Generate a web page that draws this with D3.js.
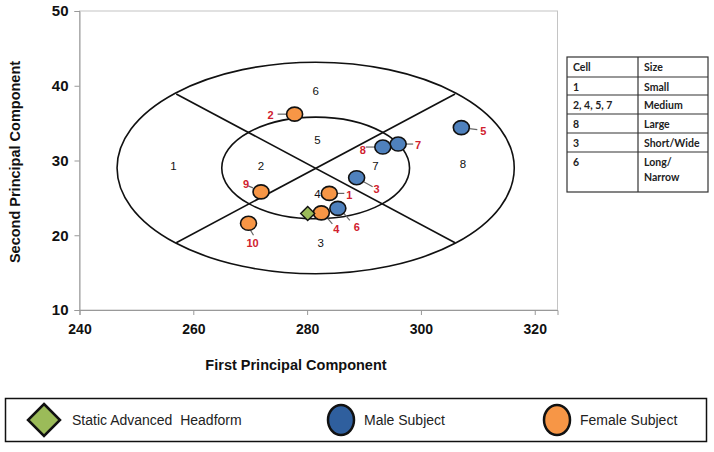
<!DOCTYPE html>
<html>
<head>
<meta charset="utf-8">
<title>PCA head size cells</title>
<script src="https://d3js.org/d3.v7.min.js"></script>
<style>
  body { margin: 0; background: #fff; }
  svg { display: block; font-family: "Liberation Sans", Arial, sans-serif; }
</style>
</head>
<body>
<div id="chart"></div>
<script>
// axis ticks
var xTicks = [240, 260, 280, 300, 320];
var yTicks = [10, 20, 30, 40, 50];

// subjects (id, PC1, PC2)
var femaleIds = [1, 2, 4, 9, 10];
var femaleX = [283.9, 277.8, 282.5, 271.9, 269.7];
var femaleY = [25.6, 36.2, 23.0, 25.8, 21.6];

var maleIds = [3, 5, 6, 7, 8];
var maleX = [288.7, 307.1, 285.4, 296.0, 293.3];
var maleY = [27.7, 34.4, 23.6, 32.2, 31.8];

var headformX = [280.1];
var headformY = [22.9];

// cell boundaries (data units)
var cellCenter = [281.5, 29.0];
var outerRadii = [34.9, 14.15];
var innerRadii = [16.5, 6.8];
var crossLines = [[[257.0, 38.9], [306.0, 19.0]], [[257.0, 19.0], [306.0, 38.9]]];

// cell numbers
var cellNames = ["1", "2", "3", "4", "5", "6", "7", "8"];
var cellX = [256.5, 271.9, 282.4, 281.8, 281.8, 281.5, 292.0, 307.4];
var cellY = [29.3, 29.3, 18.9, 25.5, 32.8, 39.3, 29.3, 29.5];

// table
var tableCells = ["Cell", "1", "2, 4, 5, 7", "8", "3", "6"];
var tableSizes = ["Size", "Small", "Medium", "Large", "Short/Wide", "Long/\nNarrow"];

// legend
var legendNames = ["Static Advanced  Headform", "Male Subject", "Female Subject"];

// label placement relative to marker (px): leader start, leader end, text pos
var labelLayout = {
  1: [7, 0, 15, 0, 20, 2],
  2: [-7, 0, -17, 0, -24, 1],
  4: [5, 4, 11, 11, 15, 16],
  9: [-8, -4, -13, -6, -15, -8],
  10: [2, 7, 5, 12, 4, 20],
  3: [7, 4, 16, 9, 20, 11],
  5: [8, 1, 16, 2, 22, 4],
  7: [7, 0, 15, 0, 20, 1],
  6: [6, 5, 12, 12, 19, 19],
  8: [-8, 0, -17, 0, -20, 3]
};

var W = 714, H = 452;
var svg = d3.select("#chart").append("svg").attr("width", W).attr("height", H);
svg.append("rect").attr("width", W).attr("height", H).attr("fill", "#fff");

var x = d3.scaleLinear().domain([240, 324]).range([79.5, 557.5]);
var y = d3.scaleLinear().domain([10, 50]).range([310, 11]);

// plot frame
svg.append("rect")
  .attr("x", x(240)).attr("y", y(50))
  .attr("width", x(324) - x(240)).attr("height", y(10) - y(50))
  .attr("fill", "none").attr("stroke", "#c4c4c4").attr("stroke-width", 1);

var yAxis = svg.append("g")
  .attr("transform", "translate(" + x(240) + ",0)")
  .call(d3.axisLeft(y).tickValues(yTicks).tickSize(5).tickPadding(6));
var xAxis = svg.append("g")
  .attr("transform", "translate(0," + y(10) + ")")
  .call(d3.axisBottom(x).tickValues(xTicks).tickSize(5).tickPadding(6));
[xAxis, yAxis].forEach(function (g) {
  g.select(".domain").attr("stroke", "#999");
  g.selectAll(".tick line").attr("stroke", "#999");
  g.selectAll("text").attr("font-size", 14).attr("font-weight", "bold")
    .attr("fill", "#111").attr("font-family", "Liberation Sans, Arial, sans-serif");
});
yAxis.selectAll("text").attr("font-size", 15);
xAxis.selectAll("text").attr("dy", "0.9em");

// axis titles
svg.append("text")
  .attr("transform", "translate(20," + 162 + ") rotate(-90)")
  .attr("text-anchor", "middle").attr("font-size", 14.5).attr("font-weight", "bold")
  .attr("fill", "#111").text("Second Principal Component");
svg.append("text")
  .attr("x", 296).attr("y", 370)
  .attr("text-anchor", "middle").attr("font-size", 14.5).attr("font-weight", "bold")
  .attr("fill", "#111").text("First Principal Component");

// cells
var cellG = svg.append("g").attr("fill", "none").attr("stroke", "#111").attr("stroke-width", 1.6);
[outerRadii, innerRadii].forEach(function (r) {
  cellG.append("ellipse")
    .attr("cx", x(cellCenter[0])).attr("cy", y(cellCenter[1]))
    .attr("rx", x(cellCenter[0] + r[0]) - x(cellCenter[0]))
    .attr("ry", y(cellCenter[1] - r[1]) - y(cellCenter[1]));
});
crossLines.forEach(function (l) {
  cellG.append("line")
    .attr("x1", x(l[0][0])).attr("y1", y(l[0][1]))
    .attr("x2", x(l[1][0])).attr("y2", y(l[1][1]));
});
cellNames.forEach(function (n, i) {
  svg.append("text").attr("x", x(cellX[i])).attr("y", y(cellY[i]))
    .attr("dy", "0.35em").attr("text-anchor", "middle")
    .attr("font-size", 11.5).attr("fill", "#111").text(n);
});

// leader lines + labels
function drawLabels(ids, xs, ys) {
  ids.forEach(function (id, i) {
    var L = labelLayout[id], px = x(xs[i]), py = y(ys[i]);
    svg.append("line")
      .attr("x1", px + L[0]).attr("y1", py + L[1])
      .attr("x2", px + L[2]).attr("y2", py + L[3])
      .attr("stroke", "#666").attr("stroke-width", 1.2);
    svg.append("text").attr("x", px + L[4]).attr("y", py + L[5])
      .attr("dy", "0.35em").attr("text-anchor", "middle")
      .attr("font-size", 11).attr("font-weight", "bold").attr("fill", "#d0212e")
      .text(id);
  });
}
drawLabels(femaleIds, femaleX, femaleY);
drawLabels(maleIds, maleX, maleY);

// markers
var orange = "#f79646", blue = "#4f81bd", green = "#9bbb59";
function drawCircles(xs, ys, fill) {
  xs.forEach(function (v, i) {
    svg.append("ellipse").attr("cx", x(v)).attr("cy", y(ys[i]))
      .attr("rx", 8).attr("ry", 7)
      .attr("fill", fill).attr("stroke", "#111").attr("stroke-width", 1.6);
  });
}
drawCircles(femaleX, femaleY, orange);
drawCircles(maleX, maleY, blue);
headformX.forEach(function (v, i) {
  svg.append("path")
    .attr("transform", "translate(" + x(v) + "," + y(headformY[i]) + ")")
    .attr("d", "M0,-7L7,0L0,7L-7,0Z")
    .attr("fill", green).attr("stroke", "#111").attr("stroke-width", 1.4);
});

// size table
var tbl = svg.append("g").attr("font-family", "Lato, 'Noto Sans', sans-serif");
var rowY = [57, 77, 95, 114, 133, 152, 192];
var colX = [567, 638, 708];
tbl.append("rect").attr("x", colX[0]).attr("y", rowY[0])
  .attr("width", colX[2] - colX[0]).attr("height", rowY[6] - rowY[0])
  .attr("fill", "none").attr("stroke", "#333").attr("stroke-width", 1.2);
tbl.append("line").attr("x1", colX[1]).attr("x2", colX[1]).attr("y1", rowY[0]).attr("y2", rowY[6])
  .attr("stroke", "#333").attr("stroke-width", 1.2);
rowY.slice(1, 6).forEach(function (ry) {
  tbl.append("line").attr("x1", colX[0]).attr("x2", colX[2]).attr("y1", ry).attr("y2", ry)
    .attr("stroke", "#333").attr("stroke-width", 1.2);
});
tableCells.forEach(function (c, i) {
  var ty = rowY[i] + 10;
  tbl.append("text").attr("x", colX[0] + 6).attr("y", ty).attr("dy", "0.35em")
    .attr("font-size", 10.5).attr("font-weight", "bold").attr("fill", "#222").text(c);
  tableSizes[i].split("\n").forEach(function (s, j) {
    tbl.append("text").attr("x", colX[1] + 6).attr("y", ty + j * 15).attr("dy", "0.35em")
      .attr("font-size", 10.5).attr("font-weight", "bold").attr("fill", "#222").text(s);
  });
});

// legend
var lg = svg.append("g");
lg.append("rect").attr("x", 5.5).attr("y", 398.5).attr("width", 701).attr("height", 43)
  .attr("fill", "#fff").attr("stroke", "#111").attr("stroke-width", 1.5);
var legX = [44, 341, 557];
lg.append("path").attr("transform", "translate(" + legX[0] + ",420)")
  .attr("d", "M0,-16L16,0L0,16L-16,0Z")
  .attr("fill", green).attr("stroke", "#111").attr("stroke-width", 2.5);
lg.append("ellipse").attr("cx", legX[1]).attr("cy", 420).attr("rx", 13).attr("ry", 15)
  .attr("fill", "#2f5f9e").attr("stroke", "#111").attr("stroke-width", 2.5);
lg.append("ellipse").attr("cx", legX[2]).attr("cy", 420).attr("rx", 13).attr("ry", 15)
  .attr("fill", orange).attr("stroke", "#111").attr("stroke-width", 2.5);
legendNames.forEach(function (n, i) {
  lg.append("text").attr("x", legX[i] + (i === 0 ? 28 : 23)).attr("y", 420).attr("dy", "0.35em")
    .style("white-space", "pre")
    .attr("font-size", 14).attr("fill", "#222").text(n);
});
</script>
</body>
</html>
